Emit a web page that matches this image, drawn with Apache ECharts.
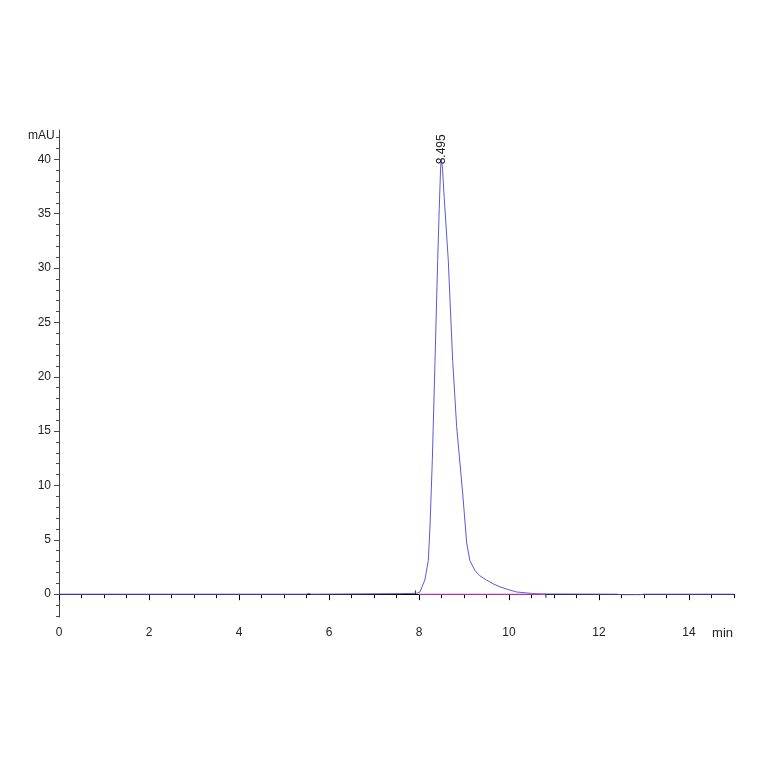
<!DOCTYPE html>
<html>
<head>
<meta charset="utf-8">
<script src="https://cdn.jsdelivr.net/npm/echarts@6/dist/echarts.min.js"></script>
<style>
  html, body { margin: 0; padding: 0; background: #fff; }
  #main { width: 764px; height: 764px; }
</style>
</head>
<body>
<div id="main"></div>
<script>
// chromatogram trace (min, mAU)
var times = [0, 5.5, 5.55, 5.6, 7.6, 7.95, 8.02, 8.13, 8.207, 8.244, 8.296, 8.356, 8.415, 8.45, 8.48, 8.495,
    8.52, 8.56, 8.651, 8.748, 8.837, 8.97, 9.06, 9.13, 9.24, 9.35, 9.5, 9.65, 9.8, 10.0, 10.17, 10.53, 10.8,
    12.4, 12.5, 12.9, 13.0, 15];
var values = [0, 0, 0.08, 0, 0.05, 0.08, 0.2, 1.3, 3.1, 6.2, 12.3, 21.5, 30.7, 35.5, 39.2, 40.0,
    39.3, 36.5, 30.7, 21.5, 15.4, 9.3, 4.7, 3.1, 2.2, 1.7, 1.3, 0.95, 0.67, 0.4, 0.2, 0.06, 0.02,
    0, -0.05, -0.04, 0, 0];

// integration baseline and its start / end markers
var baseTimes = [8.0, 10.8];
var baseValues = [0, 0];
var startMark = [[7.92, 0], [7.92, 0.35]];
var endMark = [[10.82, 0], [10.82, -0.35]];

var peakTime = 8.495;
var peakValue = 40.0;

var xLabels = [0, 2, 4, 6, 8, 10, 12, 14];
var xMinor = [];
for (var i = 0; i <= 30; i++) xMinor.push(i * 0.5);
var yLabels = [0, 5, 10, 15, 20, 25, 30, 35, 40];
var yMinor = [];
for (var j = -2; j <= 42; j++) yMinor.push(j);

var trace = times.map(function (t, k) { return [t, values[k]]; });
var base = baseTimes.map(function (t, k) { return [t, baseValues[k]]; });

var chart = echarts.init(document.getElementById('main'));
var font = 'Liberation Sans, Arial, sans-serif';

var option = {
    animation: false,
    backgroundColor: '#fff',
    grid: { left: 59, right: 30, top: 130, bottom: 147 },
    xAxis: [
        {
            type: 'value',
            min: 0,
            max: 15,
            axisLine: { show: true, lineStyle: { color: '#000', width: 1 } },
            axisTick: { show: true, customValues: xLabels, length: 6, lineStyle: { color: '#000' } },
            axisLabel: { customValues: xLabels, margin: 10, color: '#222', fontSize: 12, fontFamily: font },
            splitLine: { show: false }
        },
        {
            type: 'value',
            min: 0,
            max: 15,
            position: 'bottom',
            offset: 0,
            axisLine: { show: false },
            axisTick: { show: true, customValues: xMinor, length: 4, lineStyle: { color: '#000' } },
            axisLabel: { show: false },
            splitLine: { show: false }
        }
    ],
    yAxis: [
        {
            type: 'value',
            min: -2.1,
            max: 42.7,
            axisLine: { show: true, lineStyle: { color: '#444', width: 1 } },
            axisTick: { show: true, customValues: yLabels, length: 5, lineStyle: { color: '#444' } },
            axisLabel: { customValues: yLabels, margin: 8, color: '#222', fontSize: 12, fontFamily: font },
            splitLine: { show: false }
        },
        {
            type: 'value',
            min: -2.1,
            max: 42.7,
            position: 'left',
            offset: 0,
            axisLine: { show: false },
            axisTick: { show: true, customValues: yMinor, length: 3, lineStyle: { color: '#444' } },
            axisLabel: { show: false },
            splitLine: { show: false }
        }
    ],
    graphic: [
        { type: 'text', left: 28, top: 130, style: { text: 'mAU', fill: '#222', font: '12px ' + font } },
        { type: 'text', right: 31, top: 627, style: { text: 'min', fill: '#222', font: '13px ' + font } }
    ],
    series: [
        {
            type: 'line',
            data: trace,
            showSymbol: false,
            symbol: 'none',
            lineStyle: { color: '#5a5ad6', width: 1 },
            markPoint: {
                symbol: 'circle',
                symbolSize: 0,
                data: [{ coord: [peakTime, peakValue], value: peakTime }],
                label: {
                    show: true,
                    formatter: peakTime.toFixed(3),
                    rotate: 90,
                    position: 'inside',
                    align: 'left',
                    verticalAlign: 'middle',
                    offset: [-5, 0],
                    color: '#222',
                    fontSize: 12,
                    fontFamily: font
                }
            }
        },
        {
            type: 'line',
            data: base,
            symbol: 'none',
            lineStyle: { color: '#ee55ee', width: 1 }
        },
        {
            type: 'line',
            data: startMark,
            symbol: 'none',
            lineStyle: { color: '#333', width: 1 }
        },
        {
            type: 'line',
            data: endMark,
            symbol: 'none',
            lineStyle: { color: '#333', width: 1 }
        }
    ]
};

chart.setOption(option);
</script>
</body>
</html>
